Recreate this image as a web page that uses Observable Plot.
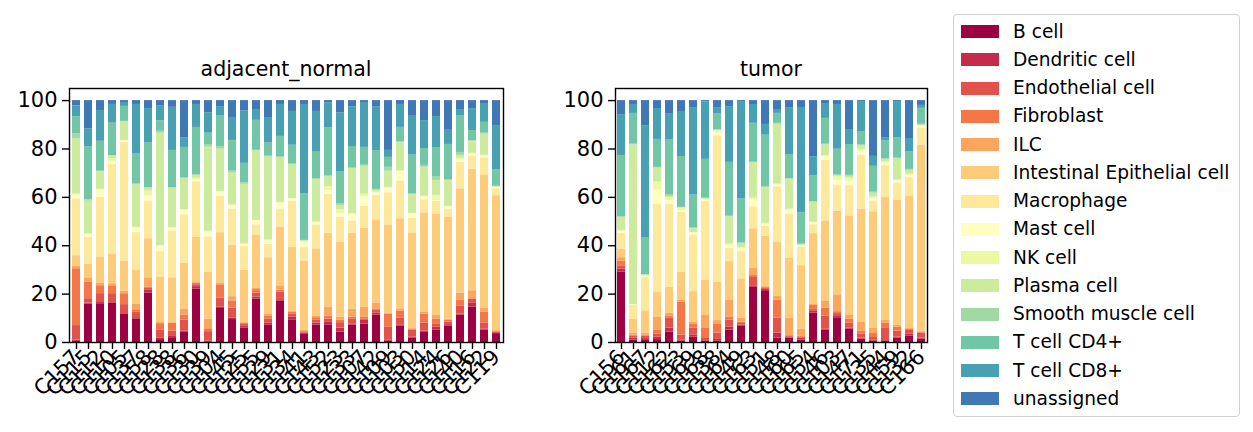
<!DOCTYPE html>
<html><head><meta charset="utf-8">
<script src="https://cdn.jsdelivr.net/npm/d3@7"></script>
<script src="https://cdn.jsdelivr.net/npm/@observablehq/plot@0.6"></script>
<style>
body{margin:0;background:#fff;font-family:"DejaVu Sans",sans-serif;}
#root{position:relative;width:1253px;height:432px;overflow:hidden;background:#fff;}
.panel{position:absolute;top:0;}
.title{position:absolute;font-size:20.5px;line-height:20px;color:#000;transform:translateX(-50%);top:59px;white-space:nowrap;}
#legend{position:absolute;left:953px;top:14px;width:287px;height:403px;border:1px solid #d0d0d0;border-radius:4px;box-sizing:border-box;background:#fff;}
.sw{position:absolute;left:7px;width:38px;height:13px;}
.lb{position:absolute;left:59px;font-size:18.6px;line-height:20px;color:#000;white-space:nowrap;}
</style></head>
<body><div id="root"></div>
<script>
const cellTypes = ["B cell","Dendritic cell","Endothelial cell","Fibroblast","ILC","Intestinal Epithelial cell","Macrophage","Mast cell","NK cell","Plasma cell","Smooth muscle cell","T cell CD4+","T cell CD8+","unassigned"];
const palette = ["#9e0142","#c52c4b","#e2524a","#f57647","#fca55d","#fecb79","#fee99a","#ffffbf","#edf8a3","#cdeb9d","#a1d9a4","#70c6a5","#48a1b3","#3f78b5"];
const yTicks = [0,20,40,60,80,100];

const normalSamples = ["C157","C115","C112","C110","C105","C137","C158","C128","C138","C136","C130","C139","C104","C145","C125","C155","C129","C131","C134","C141","C143","C152","C123","C133","C107","C142","C109","C103","C150","C114","C124","C126","C140","C116","C122","C119"];
const normalValues = [
[0.7,0.3,6,23.5,1,4.4,23.5,1.5,0.5,22.7,2.2,7,4.5,2.2],
[15.8,0.5,1.8,6.7,1.9,5.5,11.3,1.1,0.3,13.5,0.5,22,7.4,11.6],
[15.8,0.8,3.7,3.3,1.1,10.6,25,3,0.3,7.3,0.3,12.4,12.8,4.1],
[16.4,0.3,3.7,3,1.1,12.4,37.5,1.1,1.1,1.4,0,13.6,7.8,1.6],
[11.7,0.3,3.7,4.5,1.1,12.5,49,0.7,0.2,7.6,0.3,6.2,1.6,0.8],
[9.8,0.5,2.2,1.1,2.2,14.4,15.4,1.9,0.3,17.7,0.3,12.4,20.6,1.6],
[20.5,1.1,0.8,0.5,3.9,16.2,15.7,2,2,1.2,0.3,18.4,14.3,3.3],
[1.2,0.5,3.3,2.8,0.7,18.4,10.7,2.3,0.2,46.5,0.8,4.4,6.2,2.1],
[2,0.5,2.2,3.2,0.3,18.7,19.5,1.1,0.2,16.4,0.3,15.4,17.9,2.8],
[4.4,0.4,4.4,2.2,2.3,19.1,20.1,1.9,0.3,12.7,0.5,12.5,3.9,15.5],
[22.1,1,0.8,0.7,0.5,18.3,23.1,0.7,0.7,1.1,0.3,19.6,9.5,1.6],
[0.3,0.2,4,1.2,4,19.5,14.4,2.1,0.3,34.8,1.1,4.7,8.5,5],
[14.4,0.2,3.8,5.2,1.1,20.8,15.1,1.8,0.2,17.5,1.1,12.8,3.7,2.5],
[9.5,0.7,4,3,1.8,21.3,15,1.4,0.2,13.3,0.8,12.7,9.5,7],
[6,0.7,0.8,0.5,0.4,21.5,10,0.7,0.3,24.6,0.7,8,21.7,4.3],
[18,0.8,1.6,1.5,0.6,22,4.3,1.6,0.2,28.7,0.3,12.4,4.5,3.7],
[7.3,0.8,1.6,1.1,0.8,23.5,5.5,1.5,0.3,34.4,0.4,5.4,10.6,7],
[17.2,0.5,3.2,0.7,1.8,24.3,7.4,2.6,0.2,18.3,0.5,8.5,13.2,1.6],
[9.4,1.2,1.1,0.8,0.4,26.5,19.3,0.8,0.2,14,0.3,7.8,14,4.5],
[3.6,0.3,0.3,0.4,0.4,28.5,5.8,2.2,0.3,0.2,0.2,19.3,36.9,1.6],
[7.3,0.8,1.1,1.1,0.5,28.1,9.9,1,0.2,17.6,0.3,11.1,16.9,4.5],
[7.3,1,1.3,1.3,3.7,30.5,16.1,1.6,1.6,4.1,0.4,19.8,10.3,1],
[4.3,1.6,2.3,1,1.2,31,10.3,1.5,1.6,1.8,0.7,13.3,24.3,5],
[7.2,0.3,2.3,0.7,3.3,31.4,5,3,0,18.8,0.4,8.7,16.5,2.5],
[7.6,1.6,0.4,1,3.9,33,9.1,3.7,1.2,11.6,0.4,7.4,18.6,0.8],
[11.3,0.8,1.2,0.5,2.5,34.5,10,1.2,0.3,0.8,0.3,16.1,18.2,2.5],
[0.7,0.4,5.2,5.5,0.4,36.2,13.6,1.9,0.3,6.7,1.6,4.1,2.9,20.6],
[6.7,0.4,2.9,2.9,0.8,37.6,15.7,3.9,0.2,11.6,0.4,6,9.5,1.6],
[1.9,0.4,2.8,0.4,0.4,39.5,6.3,1.9,0.2,7.8,0.4,16.1,16.5,6.2],
[4.4,0.4,3.2,3.7,0.8,41.3,5.4,1.2,0.3,12,0.8,7,11.6,8.3],
[5.1,1.2,1.2,2.1,1.6,41.7,5.4,0.4,2.1,6.2,1.6,12,12.8,6.6],
[6.9,0.5,1,0.8,0.4,42.5,3.3,0.8,0.3,10.7,0.4,14.6,6.2,12],
[11.3,0.5,3.2,2.5,3,43.2,11.1,0.8,0.8,1.2,1.2,15.3,2.5,3.7],
[14.6,1.6,1.6,0.3,3.3,50.3,5.4,0.8,0.3,5,0.3,4.1,9.1,3.3],
[5.1,0.5,2.5,4.4,1.6,55.3,7,0.8,0.3,8.7,0.4,4.5,7.8,1.2],
[3.7,0.4,0.3,0.3,0.3,56.4,2.9,0.5,0.2,0.2,0.2,6.9,18.2,10.7]
];

const tumorSamples = ["C156","C161","C167","C112","C162","C153","C169","C168","C138","C164","C149","C163","C151","C148","C160","C165","C154","C146","C103","C147","C171","C135","C144","C159","C132","C166"];
const tumorValues = [
[29.2,1.1,1.2,2.1,1.5,3.5,6.6,0.8,0.4,5.4,0.3,25.3,16.9,5.8],
[1,0.8,0.8,0.5,0.8,5.6,5.8,0.2,0.2,66,0.3,12.7,3.7,1.6],
[0.8,0.8,1,0.5,0.7,9,14,0.5,0.3,0.3,0.2,15.3,46.2,10.4],
[1.2,1,1.2,1.6,5.4,10.3,36.7,5.8,3.3,5.8,0.3,11.6,12.8,3.3],
[4.3,1.6,4.1,1,1.1,10.7,34.3,1.6,1.2,0.5,0.8,22.7,10.7,5.4],
[0.5,0.4,2.1,13.6,0.8,11.6,24.8,0.8,0.8,0.4,0,21,18.6,4.5],
[2.2,0.8,2.9,1.6,0.8,12.8,23.5,0.8,0.2,1.6,0.3,13.6,36.3,2.9],
[0.5,0.3,1.2,4.1,5.4,14.4,32.6,0.8,0.2,0.2,0.2,16.1,23.9,0.5],
[0.5,0.8,2.6,3.6,1.6,16.1,60.7,1.2,0.8,0.3,0.3,6.6,2.5,2.9],
[5.1,1.2,2.9,1.2,7,16.1,5.5,1.1,0.8,11.1,0.3,22.3,23.1,2.5],
[6.7,0.5,0.7,0.5,1.6,16.1,11.6,1.2,0.3,1.6,0.5,18.2,40.4,0.4],
[22.8,0.4,3.7,0.8,2.9,16.5,9.1,2.9,0.8,14.4,0.3,16.1,7.8,1.6],
[21.2,0.8,0.4,0.4,0.4,21,4.1,0.8,0.4,14.9,0.2,21.5,4.5,9.9],
[1.8,2.1,6.2,7.4,1.6,22.3,23.1,0.8,0.3,24.8,0.4,4.1,1.6,3.7],
[1.8,0.5,0.3,0.3,7,25.1,18.2,1.6,0.3,12.4,0.3,9.9,19.4,2.9],
[1,0.8,0.4,0.5,2.9,26.8,7.8,0.5,0.3,0.2,0.3,13.2,44.4,2.9],
[12.1,0.8,0.8,1.6,0.4,29.3,3.7,0.8,0.2,8.3,0.3,10.7,7.8,23.2],
[5.1,0.4,5.4,3.3,2.9,33.4,25.2,1.6,0.3,4.5,0.3,10.7,6.2,1.2],
[10,0.8,1.2,0.8,7,34.7,10.7,2.1,1.6,0.3,0.3,10.7,18.6,1.6],
[5.5,0.4,2.1,1.6,1.6,41.3,12.8,1.6,1.2,0.8,0.4,12.8,6.2,12],
[1.4,0.4,1.6,1.2,3.7,47,22.3,1.6,0.8,1.6,0.4,5.4,12.4,0.4],
[0.5,0.4,1.2,1.6,2.1,48.3,4.5,0.8,0.8,1.6,0.4,10.7,4.1,23.1],
[0.5,0.3,5,2.1,1.2,50.8,13.2,1.2,0.4,0.8,0.4,7.4,1.2,15.5],
[1.8,0.4,2.5,1.6,0.8,51.9,7,0.8,0.4,8.7,0.4,8.3,15.1,0.4],
[2.6,0.8,1.6,0.4,0.4,54.9,7.8,0.8,0.4,1.6,0.4,7.4,5.4,15.7],
[1.4,0.4,2.1,0.4,0.4,77.2,7,0.8,0.2,0.2,0.4,6.6,1.2,2]
];

function tidy(samples, values) {
  const rows = [];
  samples.forEach((s, i) => {
    const tot = d3.sum(values[i]);
    cellTypes.forEach((c, j) => rows.push({sample: s, cell: c, pct: values[i][j] / tot * 100}));
  });
  return rows;
}

function panel(samples, values, width, marginLeft, marginRight) {
  return Plot.plot({
    width, height: 432,
    marginTop: 88, marginBottom: 90, marginLeft, marginRight,
    style: {fontFamily: '"DejaVu Sans", sans-serif', fontSize: "21px", color: "#000", background: "transparent", overflow: "visible"},
    x: {type: "band", domain: samples, paddingInner: 0.34, paddingOuter: 0.17, label: null},
    y: {domain: [0, 105], label: null},
    color: {domain: cellTypes, range: palette},
    marks: [
      Plot.barY(tidy(samples, values), {x: "sample", y: "pct", fill: "cell", order: null}),
      Plot.axisY({ticks: yTicks, tickSize: 7, tickPadding: 5, label: null, strokeWidth: 1.4}),
      Plot.axisX({tickSize: 7, tickPadding: 4, tickRotate: -45, label: null, strokeWidth: 1.4}),
      Plot.frame({stroke: "#000", strokeWidth: 1.4})
    ]
  });
}

const root = document.getElementById("root");
const p1 = panel(normalSamples, normalValues, 520, 69, 17);
p1.classList.add("panel"); p1.style.left = "0px";
root.appendChild(p1);
const p2 = panel(tumorSamples, tumorValues, 420, 95, 13);
p2.classList.add("panel"); p2.style.left = "520px";
root.appendChild(p2);

[["adjacent_normal", 286], ["tumor", 771]].forEach(([t, x]) => {
  const d = document.createElement("div");
  d.className = "title"; d.textContent = t; d.style.left = x + "px";
  root.appendChild(d);
});

const leg = document.createElement("div");
leg.id = "legend";
cellTypes.forEach((c, i) => {
  const cy = 16.5 + 28.25 * i;
  const sw = document.createElement("div");
  sw.className = "sw"; sw.style.top = (cy - 6.5) + "px"; sw.style.background = palette[i];
  const lb = document.createElement("div");
  lb.className = "lb"; lb.style.top = (cy - 10) + "px"; lb.textContent = c;
  leg.appendChild(sw); leg.appendChild(lb);
});
root.appendChild(leg);
</script>
</body></html>
